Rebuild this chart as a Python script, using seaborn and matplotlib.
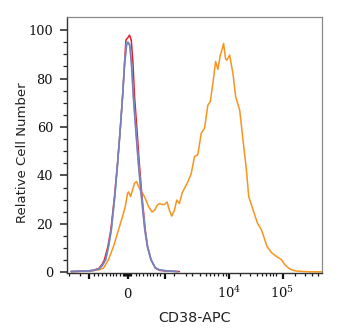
import matplotlib
matplotlib.use("Agg")
import matplotlib.pyplot as plt
import seaborn as sns
import pandas as pd
import numpy as np

# x values are display channels on the biexponential CD38-APC axis
red_x = [4, 20, 27, 32, 35, 37.3, 40.7, 43.7, 47.3, 50.3, 53, 55.3, 57.3, 58.7, 60.5, 62.3,
         64, 65.7, 67.3, 69.7, 72, 74.7, 78, 80.3, 83.7, 88, 92, 98, 112]
red_y = [0.3, 0.5, 0.9, 1.7, 3.3, 5.2, 10.6, 17.5, 31.3, 45, 58.8, 72.5, 86.3, 95.9, 96.8, 97.9,
         95.9, 86.3, 72.5, 58.8, 45, 31.3, 17.5, 10.6, 5.2, 1.7, 0.8, 0.5, 0.3]

blue_x = [4, 20, 27, 32, 35, 38.7, 41.5, 44.3, 47.7, 50.5, 53, 55.3, 57.3, 59.3, 60.7, 62.7,
          64.3, 66.3, 68.7, 71.3, 74.3, 77.7, 80.3, 83.7, 88, 92, 99, 110]
blue_y = [0.3, 0.5, 0.8, 1.4, 2.6, 5.2, 10.6, 17.5, 31.3, 45, 58.8, 72.5, 86.3, 94.5, 95.2, 93.8,
          86.3, 72.5, 58.8, 45, 31.3, 17.5, 10.6, 5.2, 1.9, 1, 0.6, 0.3]

purple_x = [4, 20, 27, 32, 35, 38.3, 41.2, 44, 47.5, 50.4, 53, 55.4, 57.5, 59.5, 60.8, 62.5,
            64.1, 66, 68.4, 71, 74, 77.4, 80, 83.5, 88, 92, 99, 110]
purple_y = [0.3, 0.5, 0.8, 1.5, 2.8, 5.2, 10.6, 17.5, 31.3, 45, 58.8, 72.5, 86.3, 94, 94.8, 93.5,
            86.3, 72.5, 58.8, 45, 31.3, 17.5, 10.6, 5.2, 1.8, 1, 0.6, 0.3]

orange_x = [4, 22, 32, 36.3, 41.3, 46.3, 51.3, 55.3, 58, 60.3, 61.3, 63.3, 65.3, 67.3, 69.3, 71.3,
            73.7, 76.3, 78.7, 81.3, 84.7, 87.3, 89.7, 92, 94.7, 97, 99.7, 102, 104.3, 107, 109.3,
            112, 114.7, 117, 120.3, 123.7, 127, 130.3, 133.7, 137, 140.3, 142.7, 145.3, 148,
            150.3, 152.7, 154.5, 156, 158, 159.3, 162, 165.3, 168, 172, 175.3, 178.7, 181, 185.3,
            189.7, 193.7, 199.3, 204, 208.7, 213.7, 217, 222, 227, 232, 242, 253.7]
orange_y = [0.3, 0.4, 1, 1.7, 5.2, 10.6, 17.5, 23, 27, 32.6, 33.2, 31.3, 34, 36.8, 37.5, 35.4,
            33.2, 31.9, 29.8, 27, 24.9, 25.6, 27.6, 28.3, 28, 28, 29, 25.6, 23.2, 25.6, 29.8,
            28.4, 32.8, 34.6, 37.3, 40.7, 47.8, 48.5, 57.4, 59.5, 69, 70.4, 78, 87,
            83.8, 89.7, 92, 94.5, 88, 87.6, 89.7, 82, 72.5, 67, 54.6, 42.3, 31.3, 25.8,
            20.3, 17.5, 10.6, 8, 6.5, 5.2, 3.1, 1.3, 0.6, 0.4, 0.2, 0.2]

major_tick_pos = [22, 60.5, 98, 161.3, 214.7]
major_tick_labels = ["", "0", "", "$10^4$", "$10^5$"]
minor_tick_pos = [2, 12.7, 27, 31.3, 35.3, 39.3, 42.7, 46, 49.3, 52.7, 55.5, 56.5, 57.5, 58.5,
                  59.5, 61.5, 62.5, 63.5, 68.7, 72, 75.3, 79.3, 82.7, 86, 89.3, 92.7,
                  107, 119, 125, 132, 138, 142, 146, 150, 155, 158,
                  172, 182, 189, 194, 198, 202, 205, 208, 227, 237, 244, 250]
y_ticks = [0, 20, 40, 60, 80, 100]

frames = []
for name, xs, ys in [("orange", orange_x, orange_y), ("red", red_x, red_y),
                     ("blue", blue_x, blue_y), ("purple", purple_x, purple_y)]:
    frames.append(pd.DataFrame({"x": xs, "y": ys, "s": name}))
df = pd.concat(frames, ignore_index=True)
palette = {"orange": "#f7941d", "red": "#e3202b", "blue": "#5cb4e6", "purple": "#7c7db8"}

sns.set_theme(style="ticks")
plt.rcParams["font.family"] = ["DejaVu Sans"]
plt.rcParams["mathtext.fontset"] = "dejavuserif"

fig = plt.figure(figsize=(3.42, 3.36), dpi=100)
ax = fig.add_axes([67 / 342, 1 - 273 / 336, 255 / 342, 256 / 336])

sns.lineplot(data=df, x="x", y="y", hue="s", palette=palette,
             estimator=None, sort=False, linewidth=1.1, legend=False, ax=ax)

ax.set_xlim(0, 254)
ax.set_ylim(-0.3, 105.4)

ax.set_yticks(y_ticks)
ax.set_yticks(np.arange(0, 105, 5), minor=True)
ax.set_yticklabels([str(v) for v in y_ticks], family="DejaVu Serif", fontsize=9.3,
                   color="#111111")
ax.set_xticks(major_tick_pos)
ax.set_xticklabels(major_tick_labels, family="DejaVu Serif", fontsize=9.5, color="#111111")
ax.set_xticks(minor_tick_pos, minor=True)
for lab in ax.get_xticklabels():
    lab.set_verticalalignment("baseline")

ax.tick_params(axis="y", which="major", length=5, width=1.1, pad=5, color="#222222")
ax.tick_params(axis="y", which="minor", length=3, width=0.9, color="#222222")
ax.tick_params(axis="x", which="major", length=4.5, width=1.6, pad=13.5, color="#111111")
ax.tick_params(axis="x", which="minor", length=2.5, width=0.9, color="#111111")

for side in ["left", "bottom"]:
    ax.spines[side].set_color("#333333")
    ax.spines[side].set_linewidth(1.0)
for side in ["top", "right"]:
    ax.spines[side].set_visible(True)
    ax.spines[side].set_color("#8a8a8a")
    ax.spines[side].set_linewidth(0.9)

ax.set_xlabel("CD38-APC", fontsize=10.4, color="#222222")
ax.set_ylabel("Relative Cell Number", fontsize=9.5, color="#222222")
ax.xaxis.set_label_coords(0.5, -0.15)
ax.yaxis.set_label_coords(-0.15, 0.47)

fig.savefig("out.png", dpi=100, facecolor="white")
